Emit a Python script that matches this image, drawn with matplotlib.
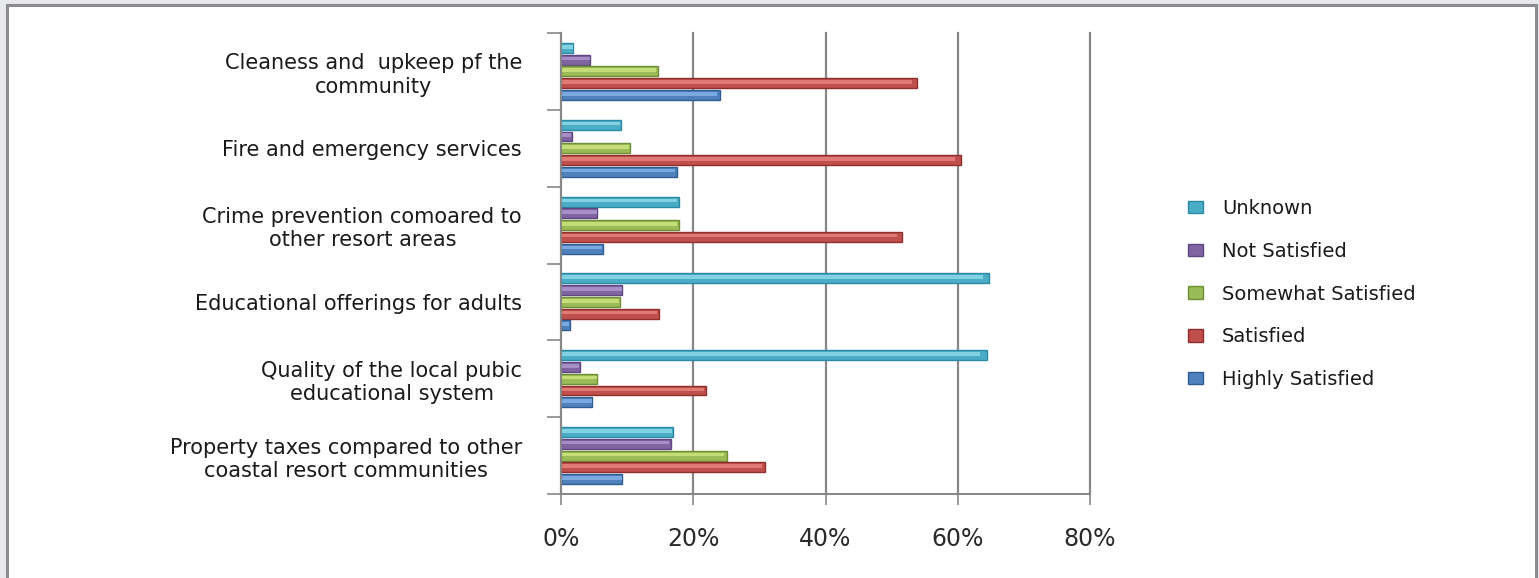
import matplotlib
matplotlib.use("Agg")
import matplotlib.pyplot as plt
import numpy as np
from matplotlib.patches import Rectangle
from matplotlib.ticker import FixedLocator, FuncFormatter

# categories listed from top to bottom as in the chart
categories = [
    "Cleaness and  upkeep pf the\ncommunity",
    "Fire and emergency services",
    "Crime prevention comoared to\nother resort areas",
    "Educational offerings for adults",
    "Quality of the local pubic\neducational system",
    "Property taxes compared to other\ncoastal resort communities",
]
unknown = [1.8, 9.0, 17.8, 64.8, 64.4, 17.0]
not_satisfied = [4.4, 1.6, 5.5, 9.3, 2.8, 16.6]
somewhat_satisfied = [14.6, 10.5, 17.8, 8.9, 5.5, 25.1]
satisfied = [53.9, 60.5, 51.6, 14.8, 22.0, 30.9]
highly_satisfied = [24.0, 17.5, 6.3, 1.3, 4.7, 9.3]
x_ticks = [0, 20, 40, 60, 80]

series = [
    ("Unknown", unknown, "#4bacc6", "#2b8ba5", "#9be3f2"),
    ("Not Satisfied", not_satisfied, "#8064a2", "#5f4683", "#b7a2d6"),
    ("Somewhat Satisfied", somewhat_satisfied, "#9bbb59", "#6f8f35", "#d6ec85"),
    ("Satisfied", satisfied, "#c0504d", "#8f2f2c", "#ee8c87"),
    ("Highly Satisfied", highly_satisfied, "#4f81bd", "#2f5d93", "#8cbbed"),
]

W, H = 1539, 578
fig = plt.figure(figsize=(W / 100, H / 100), dpi=100)
fig.patch.set_facecolor("#e7e9ed")
# white chart panel with grey border
fig.patches.append(Rectangle((7 / W, -0.01), (1536 - 7) / W, 1 - 5 / H + 0.01,
                             transform=fig.transFigure, facecolor="white",
                             edgecolor="#8c8c8c", linewidth=2.2, zorder=-10))

ax = fig.add_axes([561 / W, 1 - 494 / H, (1090 - 561) / W, (494 - 33) / H])
ax.set_facecolor("none")
ax.set_zorder(2)

n = len(categories)
ypos = np.arange(n)[::-1]  # top category has highest y
step = 0.153
bh = 0.13
offsets = [2, 1, 0, -1, -2]
handles = []
for (name, vals, col, edge, hi), off in zip(series, offsets):
    y = ypos + off * step
    b = ax.barh(y, vals, height=bh, color=col, edgecolor=edge, linewidth=1.0,
                zorder=3, label=name)
    ax.barh(y + bh * 0.12, np.array(vals) * 0.985, height=bh * 0.36,
            left=0, color=hi, alpha=0.7, linewidth=0, zorder=4)
    handles.append(b)

ax.set_xlim(0, 80)
ax.set_ylim(-0.5, n - 0.5)
ax.xaxis.set_major_locator(FixedLocator(x_ticks))
ax.xaxis.set_major_formatter(FuncFormatter(lambda v, p: f"{int(v)}%"))
ax.grid(axis="x", color="#878787", linewidth=1.6, zorder=1)
ax.set_axisbelow(True)
for gl in ax.get_xgridlines():
    gl.set_clip_on(False)

ax.set_yticks(ypos)
ax.set_yticklabels(categories, fontsize=15, color="#1a1a1a")
for t in ax.get_yticklabels():
    t.set_multialignment("center")
ax.yaxis.set_minor_locator(FixedLocator(np.arange(-0.5, n, 1.0)))
ax.tick_params(axis="y", which="major", length=0, pad=28)
ax.tick_params(axis="y", which="minor", length=10, width=1.2, color="#878787", direction="out")
ax.tick_params(axis="x", which="major", length=8, width=1.2, color="#878787",
               labelsize=17, labelcolor="#2a2a2a", pad=16)

for s in ["top", "right"]:
    ax.spines[s].set_visible(False)
for s in ["left", "bottom"]:
    ax.spines[s].set_color("#878787")
    ax.spines[s].set_linewidth(1.4)
ax.spines["bottom"].set_zorder(5)
ax.spines["left"].set_zorder(5)

leg = fig.legend(handles=handles, labels=[s[0] for s in series],
                 loc="center left", bbox_to_anchor=(1188 / W, 1 - 294 / H),
                 frameon=False, fontsize=14, labelspacing=1.22,
                 handlelength=0.75, handleheight=0.6, handletextpad=1.0,
                 borderaxespad=0, borderpad=0)
for t in leg.get_texts():
    t.set_color("#1a1a1a")

fig.savefig("out.png", dpi=100)
